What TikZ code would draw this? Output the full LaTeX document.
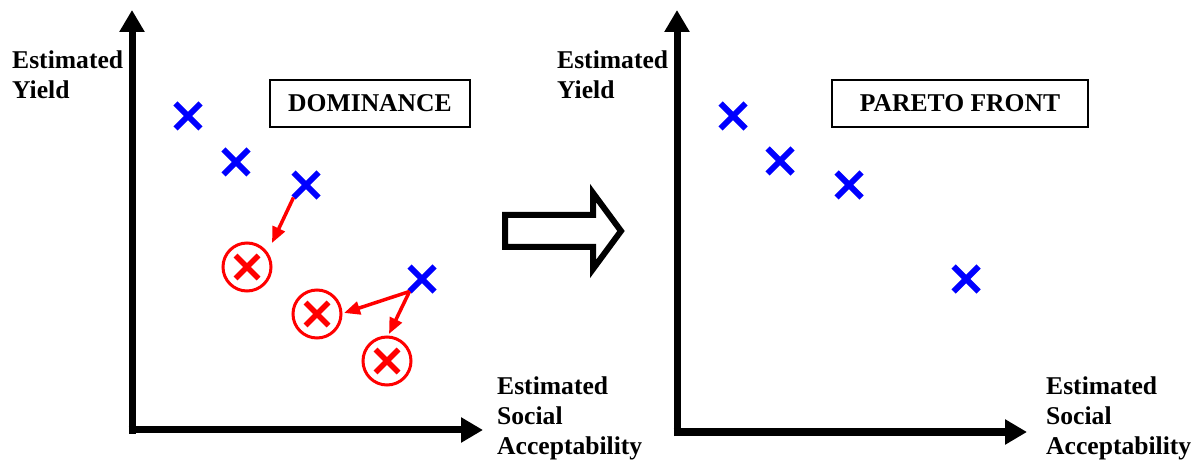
\documentclass[tikz,border=0pt]{standalone}
\usepackage{fontspec}
\setmainfont{Liberation Serif}
\usetikzlibrary{arrows.meta,shapes.misc,calc}
\begin{document}
\begin{tikzpicture}[x=1pt,y=-1pt,
  axis/.style={line width=7pt,-{Triangle[length=22pt,width=24pt]}},
  lbl/.style={font=\bfseries\fontsize{25.6}{30}\selectfont,align=left,anchor=north west,inner sep=0pt},
  bluex/.style={cross out,draw=blue,line width=6pt,minimum size=25pt,inner sep=0pt,outer sep=0pt},
  redx/.style={cross out,draw=red,line width=5.5pt,minimum size=23pt,inner sep=0pt,outer sep=0pt},
  ring/.style={circle,draw=red,line width=3pt,minimum size=48pt,inner sep=0pt,outer sep=0pt},
  redarrow/.style={draw=red,line width=3.5pt,-{Triangle[length=16pt,width=13pt]}},
  titlebox/.style={draw,line width=1.2pt,font=\bfseries\fontsize{25.6}{30}\selectfont,inner sep=0pt,minimum height=47pt}
]
\useasboundingbox (0,0) rectangle (1203,462);

% ---- left panel axes
\coordinate (ly) at (132,10);
\coordinate (lx) at (483,430);
\draw[axis] (132,434) -- (ly);
\draw[axis] (128.5,430) -- (lx);

\node[lbl] (ly1) at (12,51) {Estimated\\Yield};
\node[lbl] (lx1) at (497,377) {Estimated\\Social\\Acceptability};
\node[titlebox,minimum width=200pt] (dom) at (370,103.5) {DOMINANCE};

\node[bluex] (b1) at (188,116) {};
\node[bluex] (b2) at (236,162) {};
\node[bluex] (b3) at (306,185) {};
\node[bluex] (b4) at (422,279) {};

\node[ring] (d1) at (247,267) {};
\node[redx] (x1) at (d1) {};
\node[ring] (d2) at (317,314) {};
\node[redx] (x2) at (d2) {};
\node[ring] (d3) at (387,361) {};
\node[redx] (x3) at (d3) {};

\draw[redarrow] (b3.south west) -- ($(d1.center)+(25,-24)$);
\draw[redarrow] (b4.south west) -- ($(d2.center)+(27,-1)$);
\draw[redarrow] (b4.south west) -- ($(d3.center)+(2,-27)$);

% ---- block arrow
\draw[line width=6pt,line join=miter] (505,215) -- (593,215) -- (593,193) -- (621,231) -- (593,269) -- (593,247) -- (505,247) -- cycle;

% ---- right panel axes
\coordinate (ry) at (677,10);
\coordinate (rx) at (1027,432);
\draw[axis] (677,436) -- (ry);
\draw[axis] (673.5,432) -- (rx);

\node[lbl] (ry1) at (557,51) {Estimated\\Yield};
\node[lbl] (rx1) at (1046,377) {Estimated\\Social\\Acceptability};
\node[titlebox,minimum width=256pt] (par) at (960,103.5) {PARETO FRONT};

\node[bluex] (p1) at (733,116) {};
\node[bluex] (p2) at (780,161) {};
\node[bluex] (p3) at (849,185) {};
\node[bluex] (p4) at (966,279) {};
\end{tikzpicture}
\end{document}
